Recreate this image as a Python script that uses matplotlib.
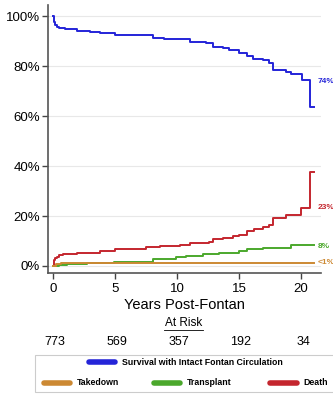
import matplotlib.pyplot as plt
from matplotlib.lines import Line2D
from matplotlib.patches import Rectangle

plt.rcParams['font.family'] = ['Liberation Sans', 'DejaVu Sans']

# survival with intact Fontan circulation (%)
surv_t = [0, 0.03, 0.08, 0.14, 0.3, 0.5, 0.94, 1.9, 3.0, 3.8, 5.0, 8.05, 8.9, 10.2, 11.0,
          12.3, 12.9, 13.7, 14.2, 15.0, 15.6, 16.1, 16.9, 17.4, 17.7, 18.8, 19.2, 20.05,
          20.7, 21.0]
surv_y = [100, 98.8, 97.5, 96.4, 95.8, 95.3, 94.7, 94.0, 93.6, 93.1, 92.6, 91.4, 91.0,
          90.7, 89.5, 89.1, 87.6, 87.4, 86.3, 85.3, 84.1, 83.0, 82.3, 81.3, 78.5, 77.7,
          76.8, 74.4, 63.7, 63.7]

# cumulative death (%)
death_t = [0, 0.03, 0.08, 0.15, 0.27, 0.5, 0.8, 1.9, 3.8, 5.0, 7.5, 8.6, 10.2, 11.0, 12.6,
           12.9, 13.7, 14.5, 15.0, 15.6, 16.2, 16.9, 17.4, 17.7, 18.8, 20.0, 20.7, 21.0]
death_y = [0, 1.2, 2.4, 3.1, 3.7, 4.3, 4.8, 5.0, 6.1, 6.9, 7.4, 7.8, 8.5, 9.3, 9.6,
           10.6, 11.0, 12.0, 12.5, 13.9, 14.6, 15.4, 16.3, 19.4, 20.3, 23.2, 37.5, 37.5]

# cumulative transplant (%)
tx_t = [0, 0.5, 1.1, 2.7, 4.9, 8.05, 9.9, 10.7, 12.1, 13.4, 15.0, 15.6, 16.9, 19.2, 21.0]
tx_y = [0, 0.4, 0.7, 1.3, 1.7, 2.8, 3.5, 4.0, 4.7, 5.3, 6.0, 6.8, 7.0, 8.3, 8.3]

# cumulative takedown (%)
td_t = [0, 0.2, 0.6, 2.0, 5.0, 21.0]
td_y = [0, 0.8, 1.0, 1.2, 1.3, 1.3]

end_labels = ['74%', '23%', '8%', '<1%']
end_pos = [74, 23.5, 7.8, 1.3]

risk_t = [0, 5, 10, 15, 20]
risk_n = [773, 569, 357, 192, 34]

blue = '#2424d8'
red = '#c4262e'
green = '#4ba82c'
orange = '#cc8933'

fig = plt.figure(figsize=(3.33, 3.94), dpi=100)
ax = fig.add_axes([0.143, 0.308, 0.821, 0.679])

ax.step(surv_t, surv_y, where='post', color=blue, lw=1.4)
ax.step(death_t, death_y, where='post', color=red, lw=1.4)
ax.step(tx_t, tx_y, where='post', color=green, lw=1.4)
ax.step(td_t, td_y, where='post', color=orange, lw=1.4)

for lab, pos, c in zip(end_labels, end_pos, [blue, red, green, orange]):
    ax.text(21.35, pos, lab, color=c, fontsize=6, fontweight='bold',
            va='center', ha='left', clip_on=False)

ax.set_xlim(-0.45, 21.6)
ax.set_ylim(-2.67, 104.4)
ax.set_yticks([0, 20, 40, 60, 80, 100])
ax.set_yticklabels(['0%', '20%', '40%', '60%', '80%', '100%'])
ax.set_xticks(risk_t)
ax.tick_params(labelsize=9.5, color='#444444', length=4, width=1)
ax.tick_params(axis='y', pad=1.5)
ax.yaxis.grid(True, color='#e8e8e8', lw=0.8)
ax.set_axisbelow(True)
for s in ['top', 'right']:
    ax.spines[s].set_visible(False)
for s in ['left', 'bottom']:
    ax.spines[s].set_color('#555555')
    ax.spines[s].set_linewidth(1.2)
ax.set_xlabel('Years Post-Fontan', fontsize=10.5, labelpad=2)

# at-risk table
ax.text(10.5, -22.7, 'At Risk', fontsize=8.5, ha='center', va='center', clip_on=False)
ax.plot([8.9, 12.05], [-25.6, -25.6], color='black', lw=0.6, clip_on=False)
for t, n in zip(risk_t, risk_n):
    ax.text(t + 0.15, -30.3, str(n), fontsize=9, ha='center', va='center', clip_on=False)

# legend box
fig.patches.append(Rectangle((0.105, 0.006), 0.93, 0.092, transform=fig.transFigure,
                             facecolor='white', edgecolor='#cccccc', lw=0.8))
def leg(x, y, c, label):
    fig.lines.append(Line2D([x, x + 0.08], [y, y], transform=fig.transFigure,
                            color=c, lw=4, solid_capstyle='round'))
    fig.text(x + 0.1, y, label, fontsize=6.3, fontweight='bold', va='center', ha='left')

leg(0.266, 0.081, blue, 'Survival with Intact Fontan Circulation')
leg(0.131, 0.028, orange, 'Takedown')
leg(0.461, 0.028, green, 'Transplant')
leg(0.812, 0.028, red, 'Death')

fig.savefig('out.png', dpi=100)
